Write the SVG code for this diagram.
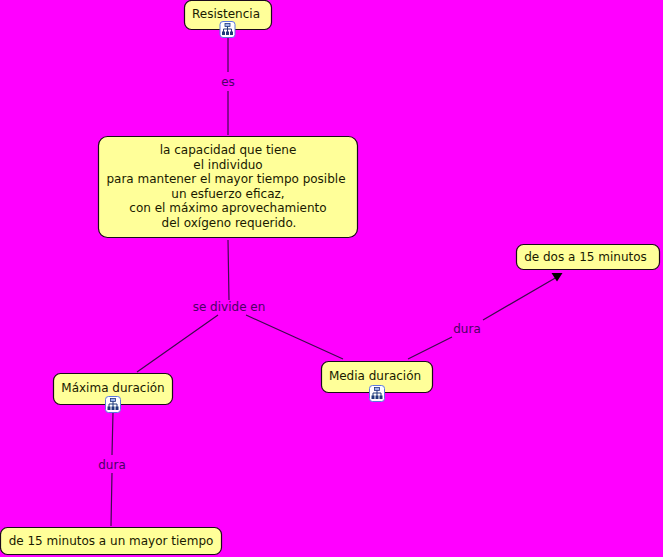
<svg xmlns="http://www.w3.org/2000/svg" width="663" height="557" viewBox="0 0 663 557">
<style>
.n{fill:#ffff99;stroke:#1a0a1a;stroke-width:1.2}
.t{font-family:"DejaVu Sans",Verdana,sans-serif;font-size:12px;fill:#1a1a00;text-anchor:middle}
.l{font-family:"DejaVu Sans",Verdana,sans-serif;font-size:12px;fill:#4d0066;text-anchor:middle}
.c{stroke:#3d0a4d;stroke-width:1.2;fill:none}
</style>
<defs>
<g id="ico">
<rect x="0.500" y="0.500" width="15" height="16" rx="3" fill="#fff" stroke="#5a78e0" stroke-width="1"/>
<rect x="5.500" y="2.500" width="5" height="3" fill="#9db4ee" stroke="#1f3a7a" stroke-width="0.8"/>
<path d="M8 5.500V11M4 8H12V11M4 8V11" fill="none" stroke="#1f3a7a" stroke-width="1"/>
<rect x="2.500" y="10.500" width="3" height="3.500" fill="#1f3a7a"/>
<rect x="6.500" y="10.500" width="3" height="3.500" fill="#1f3a7a"/>
<rect x="10.500" y="10.500" width="3" height="3.500" fill="#1f3a7a"/>
</g>
</defs>
<rect width="663" height="557" fill="#ff00ff"/>
<g id="connectors">
<path class="c" d="M228 38V72M228 91V135M228 240L229 300M218 315L137 372M246 315L343 359M408 359L452 337M483 320L557 277M113 412L112 455M112 473L111 526"/>
<polygon points="551.5,273 562.5,273 557,281.500" fill="#000"/>
<text class="l" x="228" y="86">es</text>
<text class="l" x="229" y="311">se divide en</text>
<text class="l" x="467" y="333">dura</text>
<text class="l" x="112" y="469">dura</text>
</g>
<g id="resistencia">
<rect class="n" x="184.500" y="0.500" width="87" height="29" rx="7"/>
<text class="t" x="226" y="18">Resistencia</text>
<use href="#ico" x="219.500" y="21"/>
</g>
<g id="capacidad">
<rect class="n" x="98.500" y="136.500" width="259" height="101" rx="9"/>
<text class="t" x="228" y="154">la capacidad que tiene</text>
<text class="t" x="228" y="169">el individuo</text>
<text class="t" x="226" y="183">para mantener el mayor tiempo posible</text>
<text class="t" x="228" y="198">un esfuerzo eficaz,</text>
<text class="t" x="228" y="212">con el máximo aprovechamiento</text>
<text class="t" x="229" y="227">del oxígeno requerido.</text>
</g>
<g id="dos15">
<rect class="n" x="516.500" y="244.500" width="143" height="25" rx="7"/>
<text class="t" x="585.500" y="261">de dos a 15 minutos</text>
</g>
<g id="maxima">
<rect class="n" x="53.500" y="373.500" width="119" height="31" rx="7"/>
<text class="t" x="113" y="392">Máxima duración</text>
<use href="#ico" x="105" y="396"/>
</g>
<g id="media">
<rect class="n" x="321.500" y="361.500" width="111" height="31" rx="7"/>
<text class="t" x="375" y="380">Media duración</text>
<use href="#ico" x="369" y="385"/>
</g>
<g id="d15">
<rect class="n" x="0.500" y="527.500" width="221" height="27" rx="7"/>
<text class="t" x="111" y="545">de 15 minutos a un mayor tiempo</text>
</g>
</svg>
